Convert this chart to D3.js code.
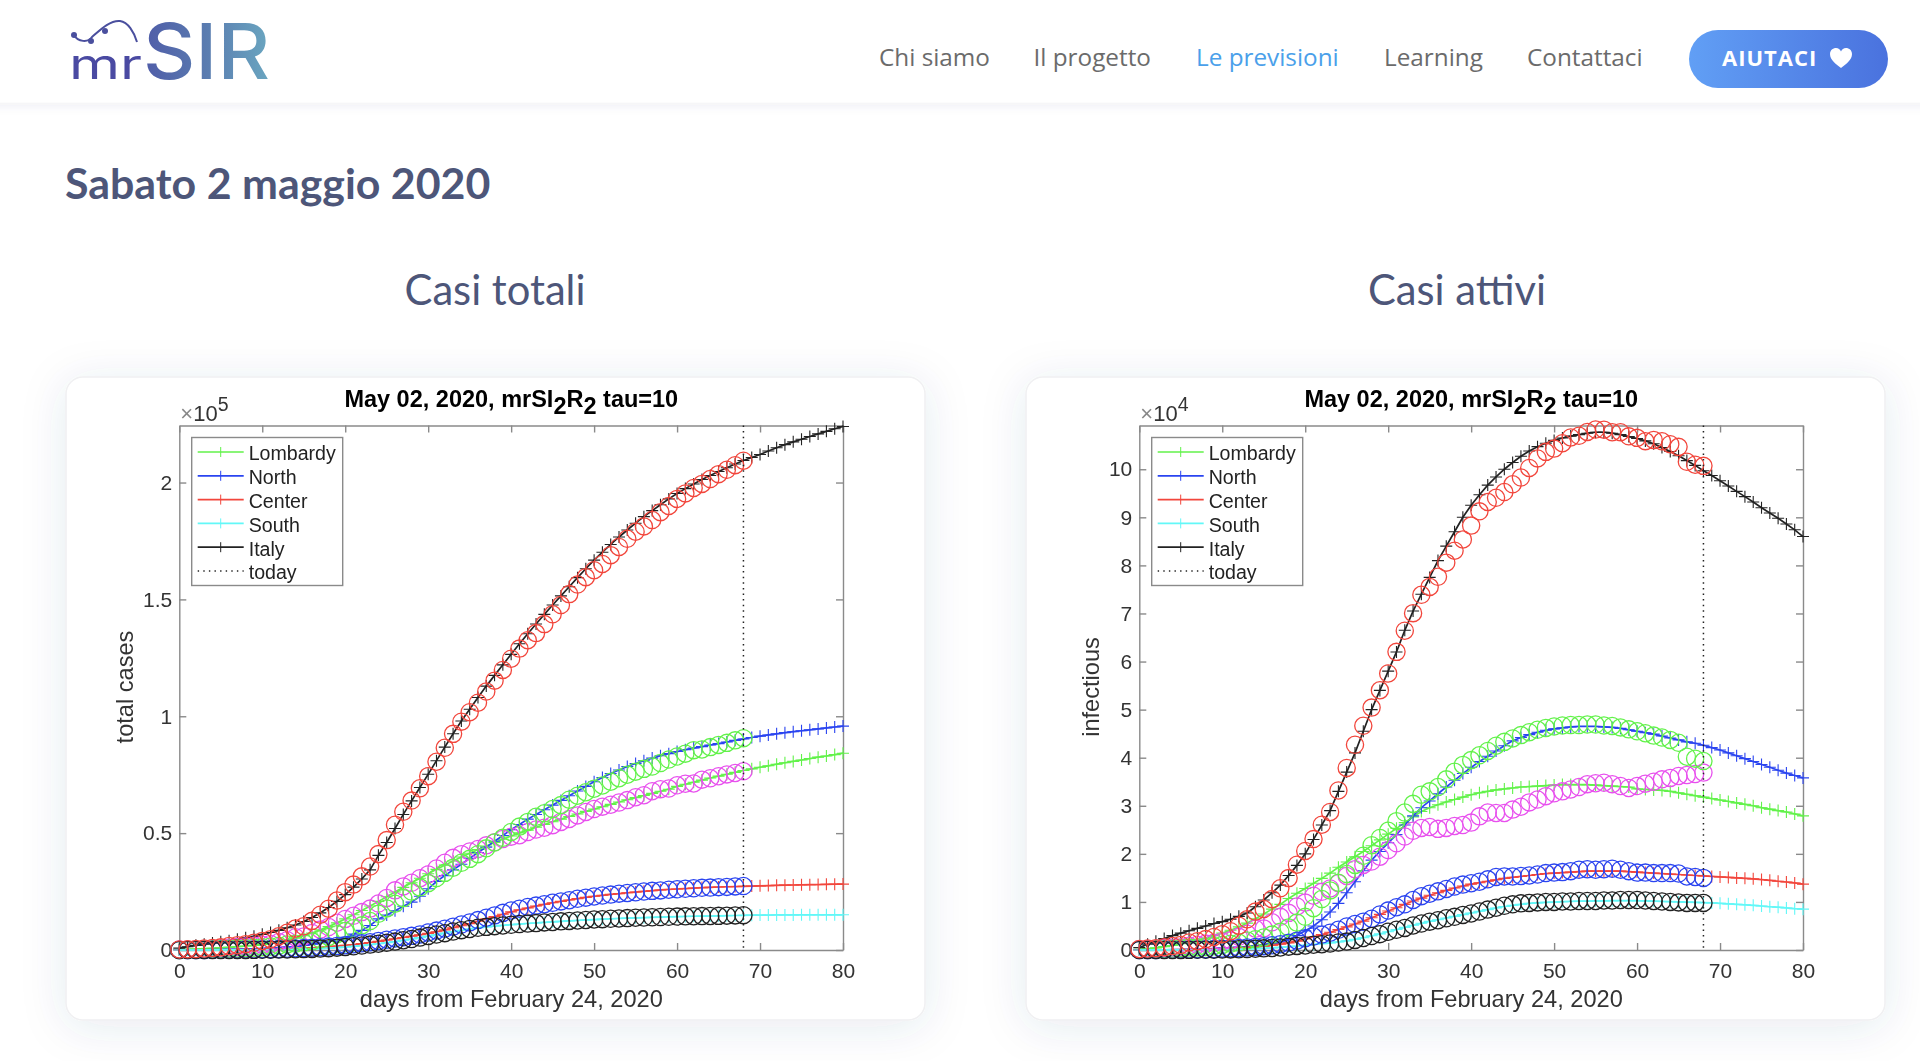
<!DOCTYPE html>
<meta charset="utf-8">
<style>

body {
  margin: 0;
  background: #fff;
  overflow: hidden;
}

svg {
  display: block;
}

.panel {
  filter: blur(.45px);
}

.axis path, .axis line {
  stroke: #8a8a8a;
  stroke-width: 1.4px;
}

.axis text, .label, .legend text {
  font-family: "Liberation Sans", Arial, sans-serif;
  fill: #333;
}

.axis text {
  font-size: 21px;
}

.label {
  font-size: 23.6px;
}

.legend text {
  font-size: 19.6px;
  fill: #222;
}

.title {
  font-family: "Liberation Sans", Arial, sans-serif;
  font-size: 23.5px;
  font-weight: bold;
  fill: #000;
}

.nav {
  font-family: "Open Sans", sans-serif;
  font-size: 24.3px;
  fill: #6b6b6b;
}

.head {
  font-family: Lato, sans-serif;
  fill: #4d5679;
}

</style>
<body>
<script src="https://d3js.org/d3.v7.min.js"></script>
<script>

var w = 1920,
    h = 1061;

// model curves run day 0-80, reported data (the circles) day 0-68
var seriesNames = ["Lombardy", "North", "Center", "South", "Italy"],
    modelColors = ["#62f24a", "#2a44f0", "#f2463c", "#62f8f8", "#222222"],
    obsColors = ["#e850ee", "#62f24a", "#2a44f0", "#222222", "#f2463c"];

var xTicks = [0, 10, 20, 30, 40, 50, 60, 70, 80],
    totalTicks = [0, 50000, 100000, 150000, 200000],
    totalTickLabels = ["0", "0.5", "1", "1.5", "2"],
    activeTicks = [0, 10000, 20000, 30000, 40000, 50000, 60000, 70000, 80000, 90000, 100000],
    activeTickLabels = ["0", "1", "2", "3", "4", "5", "6", "7", "8", "9", "10"];

var totalLombardyObs = [172,240,258,403,531,615,984,1254,1520,1820,2251,2612,3420,4189,5469,5791,7280,8725,9820,11685,13272,14649,16220,17713,19884,22264,25515,27206,28761,30703,32346,34889,37298,39415,41007,42161,43208,44773,46065,47520,48496,49118,50455,51534,52325,53414,54802,56048,57592,59052,60314,61326,62153,63094,64135,65381,66236,67931,68824,69092,70479,71140,71256,72889,73479,74346,75134,75732,76469];
var totalNorthObs = [42,57,104,197,282,413,570,602,742,959,1207,1524,1843,2406,2723,3158,3702,4588,5590,6772,8125,9281,10536,12400,15500,17800,19800,22200,25000,26800,28600,30800,33000,35200,37300,39000,41000,43500,46000,48000,50500,52800,54800,57000,58500,60300,62000,64300,66000,67500,69000,70400,72000,73500,75000,76300,77500,78500,80000,81500,82800,84000,85500,85800,86800,87745,88629,89696,90609];
var totalCenterObs = [10,20,30,40,60,80,110,140,190,240,300,370,450,560,680,820,1000,1200,1450,1700,2050,2450,2850,3300,3850,4400,4950,5500,6050,6650,7500,8300,9100,10000,10900,11800,12800,13800,14800,15900,16900,17700,18400,19000,19600,20200,20800,21300,21900,22400,22900,23300,23700,24100,24400,24700,25000,25300,25500,25800,26000,26200,26400,26600,26700,26900,27000,27200,27350];
var totalSouthObs = [5,5,8,10,15,20,30,40,50,70,100,130,170,220,300,380,480,600,800,1000,1300,1600,1900,2300,2700,3100,3600,4200,4700,5300,6000,6600,7200,7900,8500,9000,9500,9900,10200,10500,10800,11100,11300,11500,11800,12000,12250,12450,12650,12850,13050,13200,13350,13500,13650,13800,13900,14000,14100,14200,14300,14400,14450,14500,14550,14600,14700,14800,14900];
var totalItalyObs = [229,322,400,650,888,1128,1694,2036,2502,3089,3858,4636,5883,7375,9172,10149,12462,15113,17660,21157,24747,27980,31506,35713,41035,47021,53578,59138,63927,69176,74386,80539,86498,92472,97689,101739,105792,110574,115242,119827,124632,128948,132547,135586,139422,143626,147577,152271,156363,159516,162488,165155,168941,172434,175925,178972,181228,183957,187327,189973,192994,195351,197675,199414,201505,203591,205463,207428,209328];

var totalLombardyModel = [200,300,400,550,700,900,1150,1400,1700,2000,2400,2950,3550,4250,5100,6100,7300,8600,10000,11600,13300,15100,16900,18800,20800,22800,24800,26800,28800,30700,32600,34500,36300,38100,39800,41400,43000,44500,46000,47400,48800,50100,51300,52500,53700,54900,56000,57100,58200,59300,60300,61300,62300,63300,64300,65200,66100,67000,67900,68800,70000,70900,71800,72700,73600,74400,75200,76000,76800,77500,78200,78800,79500,80100,80700,81300,81900,82500,83000,83600,84200];
var totalNorthModel = [50,60,80,110,150,200,260,330,420,530,660,820,1000,1220,1500,2000,2500,3000,3700,4500,5400,6800,8400,10500,13300,15000,16800,18700,20500,23000,26200,29300,31800,34300,36700,39200,41700,44000,46500,49000,51500,53700,56000,58000,60000,62000,64000,66000,68000,70000,72000,73800,75500,77000,78500,79800,81000,82100,83100,84000,84900,85700,86400,87000,87700,88300,89000,89700,90300,90900,91500,92000,92500,93000,93400,93800,94200,94600,95000,95400,95800];
var totalCenterModel = [10,15,20,30,45,65,90,120,160,210,270,340,420,520,640,780,950,1150,1400,1680,2000,2350,2750,3200,3700,4250,4800,5350,5900,6500,7100,7800,8600,9500,10400,11300,12300,13300,14300,15300,16300,17200,18000,18800,19500,20200,20800,21400,22000,22500,23000,23400,23800,24100,24500,24800,25100,25400,25700,25900,26100,26300,26500,26700,26800,26950,27050,27150,27250,27350,27450,27550,27650,27750,27800,27900,27950,28000,28100,28150,28200];
var totalSouthModel = [5,5,8,12,16,22,30,40,52,70,95,125,165,220,290,370,470,600,780,1000,1270,1560,1880,2270,2680,3100,3600,4150,4700,5300,5950,6550,7200,7850,8450,9000,9500,9900,10250,10550,10850,11100,11350,11550,11800,12000,12250,12450,12650,12850,13000,13200,13350,13500,13650,13750,13850,14000,14100,14200,14300,14350,14450,14500,14550,14600,14700,14750,14850,14900,14950,14950,15000,15000,15000,15050,15050,15050,15050,15050,15050];
var totalItalyModel = [800,1400,2000,2500,3000,3500,4000,4600,5200,5900,6700,7500,8400,9500,10700,12200,13900,15900,18200,20800,23700,26900,30400,34300,40500,46000,52000,58000,63800,69500,75200,81000,86800,92500,98000,103000,108000,112900,117500,122000,126500,131000,135300,139500,143600,147600,151500,155400,159300,163100,166800,170200,173500,176700,179700,182600,185400,188000,190500,193000,195300,197400,199400,201300,203000,204700,206300,207900,209400,210700,212000,213500,214900,216200,217400,218500,219700,220800,221900,223000,224000];

var activeLombardyObs = [170,230,250,350,470,550,890,1080,1330,1500,1780,2010,2740,3370,4430,4490,5760,6900,7730,9060,9860,11300,12100,12800,13900,15400,16800,17700,18400,19400,20800,22200,23600,24800,25400,25600,25200,25400,25800,26000,26500,27800,28600,28500,28500,29200,29800,30700,31300,32000,32600,33000,33400,33900,34500,34700,34800,34500,34100,33700,34100,34600,35000,35500,35800,36200,36400,36600,36900];
var activeNorthObs = [40,60,100,180,260,380,520,540,640,850,1050,1300,1500,2000,2250,2600,3200,3800,4700,5700,6900,8700,10600,12400,14000,15800,17700,19600,21800,23300,24800,26800,28600,30400,32300,33000,33900,35500,37100,38500,39500,40500,41400,42500,43300,44000,44700,45300,45800,46200,46500,46700,46800,46800,46900,46900,46700,46600,46300,45900,45500,45100,44600,44200,43700,43100,40200,39800,39300];
var activeCenterObs = [10,15,25,35,50,70,90,120,150,190,280,340,420,520,650,800,980,1200,1500,1950,2450,2800,3200,3600,4200,4900,5400,5900,6500,7400,8200,8900,9500,10400,11200,11700,12200,12700,13200,13600,13900,14200,14700,15200,15300,15300,15400,15500,15700,16000,16100,16200,16400,16700,16800,16700,16800,16900,16700,16400,16100,16100,16000,16000,16000,15900,15300,15200,15000];
var activeSouthObs = [5,5,8,10,15,20,28,38,48,65,90,120,150,200,270,340,430,530,700,850,950,1100,1200,1350,1550,1750,2100,2500,2900,3300,3800,4200,4600,5100,5500,5900,6200,6600,6900,7300,7600,8000,8400,8800,9200,9500,9700,9800,9900,10000,10000,10100,10100,10200,10200,10200,10300,10300,10400,10400,10400,10300,10200,10100,10000,9900,9800,9800,9800];
var activeItalyObs = [221,311,385,588,821,1049,1577,1835,2263,2706,3296,3916,5061,6387,7985,8514,10590,12839,14955,17750,20603,23073,26062,28710,33190,37860,42681,46638,50418,54030,57521,62013,66414,70065,73880,75528,77635,80572,83049,85388,88274,91246,93187,94067,95262,96877,98273,100269,102253,103616,104291,105418,106607,106962,107771,108257,108237,107709,107699,106848,106527,105847,106103,105813,105205,104657,101551,100943,100704];

var activeLombardyModel = [150,250,450,700,950,1300,1700,2050,2500,3000,3500,4100,4800,5600,6500,7500,8500,9500,10700,11800,12800,13900,14900,16000,17200,18300,19400,20500,21700,22900,24100,25300,26500,27700,28800,29600,30200,30800,31300,31800,32300,32700,33000,33300,33500,33700,33900,34000,34100,34200,34300,34400,34400,34400,34400,34300,34200,34100,34000,33900,33500,33400,33300,33200,33000,32700,32400,32100,31800,31500,31200,30900,30600,30300,30000,29600,29300,29000,28700,28300,27900];
var activeNorthModel = [20,30,40,55,70,90,120,150,220,300,400,480,580,700,850,1100,1300,1650,2200,3000,4000,5000,6300,7900,9700,11900,14200,16500,18700,20500,22300,24000,26000,27900,29600,31000,32500,33900,35300,36700,38000,39200,40300,41400,42500,43500,44200,44800,45300,45700,46000,46200,46400,46500,46500,46500,46400,46300,46100,45800,45500,45200,44900,44500,44100,43700,43300,43000,42600,42100,41600,41000,40400,39800,39200,38600,38000,37400,36800,36300,35800];
var activeCenterModel = [10,20,30,40,55,75,100,130,170,220,280,350,430,530,650,800,980,1200,1480,1850,2300,2750,3200,3700,4250,4800,5400,6000,6700,7400,8100,8800,9500,10200,10800,11400,11900,12400,12900,13300,13700,14000,14300,14600,14900,15100,15300,15500,15700,15900,16000,16100,16200,16300,16400,16400,16400,16400,16400,16300,16200,16100,16000,15900,15800,15700,15600,15500,15400,15300,15200,15100,15000,14900,14800,14650,14500,14300,14150,13950,13700];
var activeSouthModel = [5,6,9,12,16,22,30,40,52,70,90,120,155,205,270,340,430,540,680,830,1000,1150,1300,1480,1680,1900,2200,2550,2950,3350,3800,4250,4700,5150,5550,5950,6300,6650,7000,7350,7700,8050,8400,8750,9050,9300,9500,9700,9800,9900,9950,10050,10100,10150,10150,10200,10200,10250,10250,10250,10250,10200,10150,10100,10050,10000,9950,9900,9850,9800,9700,9600,9500,9400,9300,9150,9000,8900,8750,8600,8500];
var activeItalyModel = [500,1200,1800,2400,3000,3500,4000,4500,5000,5500,5900,6400,7000,7700,9000,10400,11900,13500,15500,17600,20000,23000,26000,29000,33000,37000,41000,45500,50000,54000,58000,62000,66500,70500,74000,77500,81000,84000,87000,90000,92500,94700,96700,98400,100000,101400,102700,103800,104700,105400,106000,106500,106900,107200,107500,107700,107700,107500,107200,106800,106400,105900,105300,104500,103700,102800,101800,100800,99700,98700,97600,96500,95400,94300,93200,92000,90900,89800,88600,87400,86000];

var svg = d3.select("body").append("svg")
    .attr("width", w)
    .attr("height", h);

var defs = svg.append("defs");

function gradient(id, stops) {
  var g = defs.append("linearGradient").attr("id", id);
  stops.forEach(function(s, i) {
    g.append("stop").attr("offset", i / (stops.length - 1)).attr("stop-color", s);
  });
}
gradient("logoGrad", ["#4f5ca8", "#5a7cb0", "#6aa6c0"]);
gradient("btnGrad", ["#619ff5", "#4a72de"]);

var shadow = defs.append("filter").attr("id", "soft")
    .attr("x", "-20%").attr("y", "-20%").attr("width", "140%").attr("height", "140%");
shadow.append("feDropShadow")
    .attr("dx", 0).attr("dy", 6).attr("stdDeviation", 22)
    .attr("flood-color", "#3c4670").attr("flood-opacity", .11);

var headShadow = defs.append("filter").attr("id", "headSoft")
    .attr("x", "-5%").attr("y", "-20%").attr("width", "110%").attr("height", "160%");
headShadow.append("feDropShadow")
    .attr("dx", 0).attr("dy", 2).attr("stdDeviation", 6)
    .attr("flood-color", "#3c4670").attr("flood-opacity", .09);

// page
svg.append("rect").attr("x", -20).attr("y", -20).attr("width", w + 40).attr("height", 122.5)
    .attr("fill", "#fff").attr("filter", "url(#headSoft)");

drawLogo(svg.append("g"));

var navItems = [
  {t: "Chi siamo", x: 879},
  {t: "Il progetto", x: 1033.5},
  {t: "Le previsioni", x: 1196, on: true},
  {t: "Learning", x: 1384},
  {t: "Contattaci", x: 1527}
];

svg.selectAll(".nav")
    .data(navItems)
  .enter().append("text")
    .attr("class", "nav")
    .attr("x", function(d) { return d.x; })
    .attr("y", 66)
    .style("fill", function(d) { return d.on ? "#4aa0ea" : null; })
    .style("font-weight", function(d) { return d.on ? 500 : null; })
    .text(function(d) { return d.t; });

svg.append("rect")
    .attr("x", 1689).attr("y", 30).attr("width", 199).attr("height", 58).attr("rx", 29)
    .attr("fill", "url(#btnGrad)");
svg.append("text")
    .attr("x", 1722).attr("y", 66)
    .style("font-family", "'Open Sans', sans-serif")
    .style("font-size", "22px")
    .style("font-weight", 700)
    .style("letter-spacing", "1px")
    .attr("fill", "#fff")
    .text("AIUTACI");
svg.append("path")
    .attr("transform", "translate(1841,58)")
    .attr("d", "M0,10 C-5,6 -11,2 -11,-4 C-11,-8.5 -7,-10 -5,-10 C-2.5,-10 -1,-8.5 0,-6.5 C1,-8.5 2.5,-10 5,-10 C7,-10 11,-8.5 11,-4 C11,2 5,6 0,10 Z")
    .attr("fill", "#fff");

svg.append("text")
    .attr("class", "head")
    .attr("x", 65).attr("y", 199)
    .style("font-size", "42.9px")
    .style("font-weight", 700)
    .text("Sabato 2 maggio 2020");

svg.append("text")
    .attr("class", "head")
    .attr("x", 495).attr("y", 305)
    .attr("text-anchor", "middle")
    .style("font-size", "41.7px")
    .text("Casi totali");

svg.append("text")
    .attr("class", "head")
    .attr("x", 1457).attr("y", 305)
    .attr("text-anchor", "middle")
    .style("font-size", "41.7px")
    .text("Casi attivi");

drawChart({
  card: 66,
  left: 179.3,
  right: 843,
  yMax: 224400,
  ticks: totalTicks,
  tickLabels: totalTickLabels,
  ylabel: "total cases",
  ylabelX: 133,
  exponent: "5",
  models: [totalLombardyModel, totalNorthModel, totalCenterModel, totalSouthModel, totalItalyModel],
  obs: [totalLombardyObs, totalNorthObs, totalCenterObs, totalSouthObs, totalItalyObs]
});

drawChart({
  card: 1026,
  left: 1139.3,
  right: 1803,
  yMax: 109100,
  ticks: activeTicks,
  tickLabels: activeTickLabels,
  ylabel: "infectious",
  ylabelX: 1099,
  exponent: "4",
  models: [activeLombardyModel, activeNorthModel, activeCenterModel, activeSouthModel, activeItalyModel],
  obs: [activeLombardyObs, activeNorthObs, activeCenterObs, activeSouthObs, activeItalyObs]
});

function drawChart(c) {
  var top = 425.5,
      bottom = 950;

  svg.append("rect")
      .attr("x", c.card).attr("y", 377).attr("width", 859).attr("height", 643).attr("rx", 17)
      .attr("fill", "#fff").attr("stroke", "#f0f0f2").attr("stroke-width", 1.5)
      .attr("filter", "url(#soft)");

  var g = svg.append("g").attr("class", "panel");

  var x = d3.scaleLinear().domain([0, 80]).range([c.left, c.right]),
      y = d3.scaleLinear().domain([0, c.yMax]).range([bottom, top]);

  g.append("g").attr("class", "axis")
      .attr("transform", "translate(0," + bottom + ")")
      .call(d3.axisBottom(x).tickValues(xTicks).tickSizeInner(-7).tickSizeOuter(0).tickPadding(13));
  g.append("g").attr("class", "axis")
      .attr("transform", "translate(0," + top + ")")
      .call(d3.axisTop(x).tickValues(xTicks).tickSizeInner(-7).tickSizeOuter(0).tickFormat(""));
  g.append("g").attr("class", "axis")
      .attr("transform", "translate(" + c.left + ",0)")
      .call(d3.axisLeft(y).tickValues(c.ticks).tickSizeInner(-7).tickSizeOuter(0).tickPadding(7)
        .tickFormat(function(d, i) { return c.tickLabels[i]; }));
  g.append("g").attr("class", "axis")
      .attr("transform", "translate(" + c.right + ",0)")
      .call(d3.axisRight(y).tickValues(c.ticks).tickSizeInner(-7).tickSizeOuter(0).tickFormat(""));

  var line = d3.line()
      .x(function(d, i) { return x(i); })
      .y(function(d) { return y(d); });

  // model: line with a plus at every day
  c.models.forEach(function(values, s) {
    var m = g.append("g").attr("stroke", modelColors[s]).attr("fill", "none");
    m.append("path").attr("d", line(values)).attr("stroke-width", 1.7);
    m.selectAll("path.plus")
        .data(values)
      .enter().append("path")
        .attr("class", "plus")
        .attr("stroke-width", 1.1)
        .attr("d", function(d, i) {
          return "M" + (x(i) - 6) + "," + y(d) + "H" + (x(i) + 6) + "M" + x(i) + "," + (y(d) - 6) + "V" + (y(d) + 6);
        });
  });

  // reported data: open circles
  c.obs.forEach(function(values, s) {
    g.append("g").selectAll("circle")
        .data(values)
      .enter().append("circle")
        .attr("cx", function(d, i) { return x(i); })
        .attr("cy", function(d) { return y(d); })
        .attr("r", 8.6)
        .attr("fill", "none")
        .attr("stroke", obsColors[s])
        .attr("stroke-width", 1.3);
  });

  // today
  g.append("line")
      .attr("x1", x(68)).attr("x2", x(68)).attr("y1", top).attr("y2", bottom)
      .attr("stroke", "#222").attr("stroke-width", 1.5)
      .attr("stroke-dasharray", "1.5 4.1");

  // title, with the subscripts the reference uses
  var title = g.append("text")
      .attr("class", "title")
      .attr("x", c.left + 332).attr("y", 407)
      .attr("text-anchor", "middle");
  title.append("tspan").text("May 02, 2020, mrSI");
  title.append("tspan").attr("dy", 7).text("2");
  title.append("tspan").attr("dy", -7).text("R");
  title.append("tspan").attr("dy", 7).text("2");
  title.append("tspan").attr("dy", -7).text(" tau=10");

  g.append("text")
      .attr("class", "label")
      .attr("x", c.left + 332).attr("y", 1007)
      .attr("text-anchor", "middle")
      .text("days from February 24, 2020");

  g.append("text")
      .attr("class", "label")
      .attr("transform", "translate(" + c.ylabelX + ",687) rotate(-90)")
      .attr("text-anchor", "middle")
      .text(c.ylabel);

  // the axis exponent
  var ex = g.append("text")
      .attr("x", c.left + 1).attr("y", 421)
      .style("font-family", "'Liberation Sans', Arial, sans-serif")
      .style("font-size", "22px")
      .style("fill", "#333");
  ex.append("tspan").style("fill", "#888").text("\u00d7");
  ex.append("tspan").text("10");
  ex.append("tspan").attr("dy", -10).style("font-size", "19.5px").text(c.exponent);

  // legend
  var lx = c.left + 12.4,
      ly = 437.5,
      rows = seriesNames.concat(["today"]),
      rowY = d3.scalePoint().domain(rows).range([452, 571]);

  var legend = g.append("g").attr("class", "legend");
  legend.append("rect")
      .attr("x", lx).attr("y", ly).attr("width", 151).attr("height", 148)
      .attr("fill", "#fff").attr("stroke", "#8a8a8a").attr("stroke-width", 1.4);

  var row = legend.selectAll(".row")
      .data(rows)
    .enter().append("g")
      .attr("class", "row")
      .attr("transform", function(d) { return "translate(0," + rowY(d) + ")"; });

  row.append("line")
      .attr("x1", lx + 6).attr("x2", lx + 52)
      .attr("stroke", function(d, i) { return i < 5 ? modelColors[i] : "#222"; })
      .attr("stroke-width", function(d, i) { return i < 5 ? 1.7 : 1.4; })
      .attr("stroke-dasharray", function(d, i) { return i < 5 ? null : "1.4 4.2"; });

  row.filter(function(d, i) { return i < 5; }).append("line")
      .attr("x1", lx + 29).attr("x2", lx + 29).attr("y1", -5).attr("y2", 5)
      .attr("stroke", function(d, i) { return modelColors[i]; })
      .attr("stroke-width", 1);

  row.append("text")
      .attr("x", lx + 57)
      .attr("y", 1)
      .attr("dy", ".38em")
      .text(function(d) { return d; });
}

function drawLogo(g) {
  g.append("text")
      .attr("x", 143).attr("y", 79)
      .attr("textLength", 127).attr("lengthAdjust", "spacingAndGlyphs")
      .style("font-family", "Inter, sans-serif")
      .style("font-size", "77px")
      .style("font-weight", 500)
      .attr("fill", "url(#logoGrad)")
      .text("SIR");
  g.append("text")
      .attr("x", 69).attr("y", 79)
      .attr("textLength", 73).attr("lengthAdjust", "spacingAndGlyphs")
      .style("font-family", "Inter, sans-serif")
      .style("font-size", "42px")
      .attr("fill", "#4a4aa2")
      .text("mr");
  g.append("path")
      .attr("d", "M74,35 C78,42 88,43 92,37 C100,30 110,20 120,21 C128,22 134,32 137,42")
      .attr("fill", "none").attr("stroke", "#4a4f9e").attr("stroke-width", 2);
  g.selectAll("circle")
      .data([[74, 35], [91, 41], [105, 31]])
    .enter().append("circle")
      .attr("cx", function(d) { return d[0]; })
      .attr("cy", function(d) { return d[1]; })
      .attr("r", 3)
      .attr("fill", "#4a4f9e");
}

</script>
